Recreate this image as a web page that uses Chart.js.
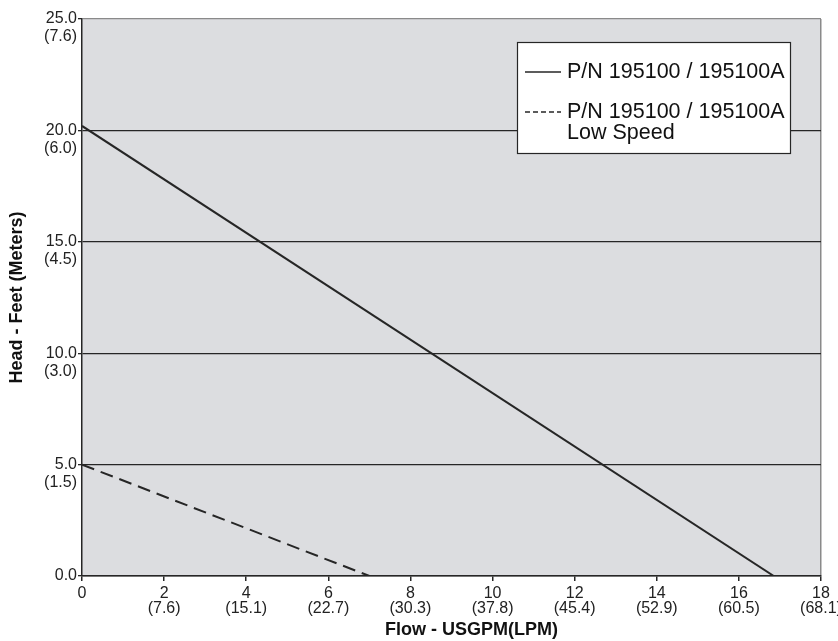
<!DOCTYPE html>
<html>
<head>
<meta charset="utf-8">
<script src="https://cdn.jsdelivr.net/npm/chart.js@4/dist/chart.umd.min.js"></script>
<style>
  body { margin: 0; background: #fff; }
  #wrap { width: 838px; height: 641px; }
</style>
</head>
<body>
<div id="wrap"><canvas id="pumpChart" width="838" height="641"></canvas></div>
<script>
// pump curve data, flow in USGPM, head in feet
const standardFlow = [0, 16.85];
const standardHead = [20.2, 0];
const lowSpeedFlow = [0, 7.0];
const lowSpeedHead = [5.0, 0];

const flowTicksGpm = ["0", "2", "4", "6", "8", "10", "12", "14", "16", "18"];
const flowTicksLpm = ["", "(7.6)", "(15.1)", "(22.7)", "(30.3)", "(37.8)", "(45.4)", "(52.9)", "(60.5)", "(68.1)"];
const headTicksFt = ["0.0", "5.0", "10.0", "15.0", "20.0", "25.0"];
const headTicksM = ["", "(1.5)", "(3.0)", "(4.5)", "(6.0)", "(7.6)"];

const legendLabels = [["P/N 195100 / 195100A"], ["P/N 195100 / 195100A", "Low Speed"]];
const flowTitle = "Flow - USGPM(LPM)";

const FONT = "'Liberation Sans', Arial, Helvetica, sans-serif";
const DARK = "#262626";
const GREY = "#8a8a8a";

const toPoints = (xs, ys) => xs.map((x, i) => ({ x: x, y: ys[i] }));

const plotBackground = {
  id: "plotBackground",
  beforeDraw(chart) {
    const { ctx, chartArea: a } = chart;
    ctx.save();
    ctx.fillStyle = "#dcdde0";
    ctx.fillRect(a.left, a.top, a.right - a.left, a.bottom - a.top);
    ctx.restore();
  },
};

// the x title sits a bit right of the plot centre in the original
const flowAxisTitle = {
  id: "flowAxisTitle",
  afterDraw(chart) {
    const ctx = chart.ctx;
    const a = chart.chartArea;
    ctx.save();
    ctx.font = "bold 18px " + FONT;
    ctx.fillStyle = "#111";
    ctx.textAlign = "center";
    ctx.textBaseline = "middle";
    ctx.fillText(flowTitle, (a.left + a.right) / 2 + 20, 630);
    ctx.restore();
  },
};

const boxLegend = {
  id: "boxLegend",
  afterDraw(chart) {
    const ctx = chart.ctx;
    const x = 517, y = 42, w = 273, h = 111;
    ctx.save();
    ctx.fillStyle = "#fff";
    ctx.fillRect(x, y, w, h);
    ctx.strokeStyle = DARK;
    ctx.lineWidth = 1.2;
    ctx.strokeRect(x + 0.5, y + 0.5, w, h);
    ctx.font = "21.5px " + FONT;
    ctx.fillStyle = "#111";
    ctx.textBaseline = "middle";
    const rows = [72, 112];
    chart.data.datasets.forEach((ds, i) => {
      const ry = rows[i];
      ctx.beginPath();
      ctx.strokeStyle = DARK;
      ctx.lineWidth = 1.6;
      ctx.setLineDash(ds.borderDash && ds.borderDash.length ? [5, 3] : []);
      ctx.moveTo(525, ry);
      ctx.lineTo(561, ry);
      ctx.stroke();
      ctx.setLineDash([]);
      legendLabels[i].forEach((line, j) => {
        ctx.fillText(line, 567, ry + j * 21);
      });
    });
    ctx.restore();
  },
};

new Chart(document.getElementById("pumpChart"), {
  type: "scatter",
  data: {
    datasets: [
      {
        label: legendLabels[0].join(" "),
        data: toPoints(standardFlow, standardHead),
        showLine: true,
        borderColor: DARK,
        borderWidth: 2,
        pointRadius: 0,
      },
      {
        label: legendLabels[1].join(" "),
        data: toPoints(lowSpeedFlow, lowSpeedHead),
        showLine: true,
        borderColor: DARK,
        borderWidth: 2,
        borderDash: [13, 7],
        pointRadius: 0,
      },
    ],
  },
  options: {
    responsive: false,
    animation: false,
    layout: { padding: { top: 19, right: 17, left: 0, bottom: 0 } },
    plugins: {
      legend: { display: false },
      tooltip: { enabled: false },
    },
    scales: {
      x: {
        type: "linear",
        min: 0,
        max: 18,
        afterFit: (scale) => {
          scale.height = 65;
          scale.paddingLeft = 0;
          scale.paddingRight = 0;
        },
        border: { color: DARK, width: 1.5 },
        grid: {
          drawOnChartArea: true,
          color: (c) => (c.tick && c.tick.value === 18 ? GREY : "transparent"),
          tickColor: DARK,
          tickLength: 5,
          lineWidth: 1.5,
        },
        ticks: {
          stepSize: 2,
          padding: 5,
          maxRotation: 0,
          autoSkip: false,
          color: "#222",
          font: { family: FONT, size: 16, lineHeight: 0.95 },
          callback: (v) => {
            const i = Math.round(v / 2);
            return flowTicksLpm[i] ? [flowTicksGpm[i], flowTicksLpm[i]] : flowTicksGpm[i];
          },
        },
      },
      y: {
        type: "linear",
        min: 0,
        max: 25,
        afterFit: (scale) => {
          scale.width = 82;
          scale.paddingTop = 0;
          scale.paddingBottom = 0;
        },
        border: { color: DARK, width: 1.5 },
        grid: {
          color: (c) => (c.tick && c.tick.value === 25 ? GREY : DARK),
          tickColor: DARK,
          tickLength: 4,
          lineWidth: 1.3,
        },
        ticks: {
          stepSize: 5,
          padding: 1,
          color: "#222",
          font: { family: FONT, size: 16, lineHeight: 1.12 },
          callback: (v) => {
            const i = Math.round(v / 5);
            return headTicksM[i] ? ["", headTicksFt[i], headTicksM[i]] : headTicksFt[i];
          },
        },
        title: {
          display: true,
          text: "Head - Feet (Meters)",
          color: "#111",
          font: { family: FONT, size: 18, weight: "bold" },
          padding: { top: 6, bottom: 0 },
        },
      },
    },
  },
  plugins: [plotBackground, flowAxisTitle, boxLegend],
});
</script>
</body>
</html>
